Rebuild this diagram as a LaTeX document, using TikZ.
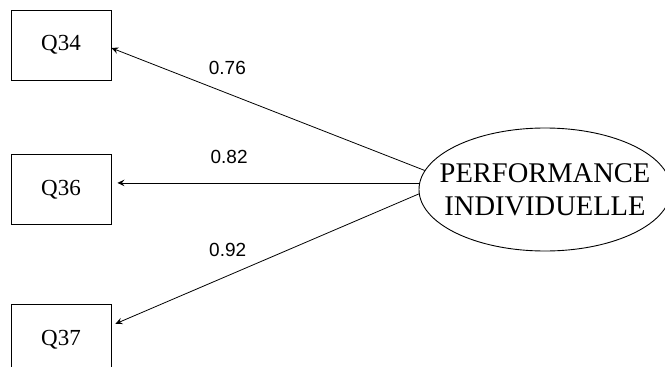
\documentclass[tikz,border=0pt]{standalone}
\usepackage{fontspec}
\setmainfont{Liberation Serif}
\setsansfont{Liberation Sans}
\usepackage{tikz}
\usetikzlibrary{positioning,arrows.meta,shapes.geometric}

\begin{document}
\begin{tikzpicture}[
    itembox/.style={rectangle, draw=black, line width=0.9pt, minimum width=100pt, minimum height=70pt, font=\fontsize{23}{26}\selectfont},
    latentnode/.style={ellipse, draw=black, line width=0.9pt, minimum width=252pt, minimum height=123pt},
    loadlabel/.style={font=\sffamily\fontsize{19}{22}\selectfont}
    ]
        \useasboundingbox (0,0) rectangle (665pt,-367pt);

        %Nodes
        \node[itembox]
            (q34)   at (61pt,-45pt)     {Q34};
        \node[itembox]
            (q36)   [below=74pt of q34] {Q36};
        \node[itembox]
            (q37)   [below=79pt of q36] {Q37};
        \node[latentnode,
            label={[align=center, font=\fontsize{28.5}{33}\selectfont]center:PERFORMANCE\\INDIVIDUELLE}]
            (perf)  at (545pt,-189.5pt) {};

        %Lines
        \draw[->, >={Stealth[length=7pt,width=6.5pt,inset=2.5pt]}, line width=0.8pt]
            (perf.171) -- node[loadlabel, pos=0.63, above=15pt] {0.76} ([yshift=-3pt]q34.east);
        \draw[->, >={Stealth[length=7pt,width=6.5pt,inset=2.5pt]}, line width=0.8pt]
            (perf.177) -- node[loadlabel, pos=0.63, above=15pt] {0.82} ([xshift=6pt]q36.east |- perf.177);
        \draw[->, >={Stealth[length=7pt,width=6.5pt,inset=2.5pt]}, line width=0.8pt]
            (perf.182) -- node[loadlabel, pos=0.63, above=15pt] {0.92} ([shift={(4pt,16pt)}]q37.east);
    \end{tikzpicture}
\end{document}
